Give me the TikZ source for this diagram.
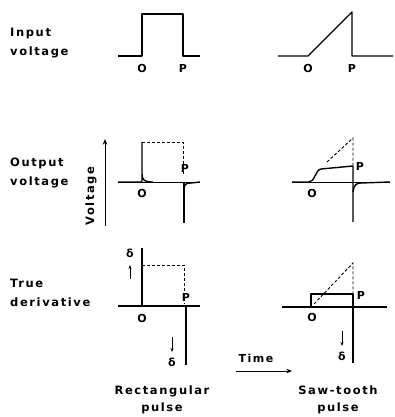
\documentclass[tikz,border=0pt]{standalone}
\usepackage{fontspec}
\newfontfamily\lettering{DejaVu Sans}[LetterSpace=14]
\usetikzlibrary{positioning, arrows.meta}

\begin{document}
\begin{tikzpicture}[x=1pt, y=-1pt,
  rowlbl/.style={font={\lettering\bfseries\fontsize{11.5}{19}\selectfont}, align=left, anchor=west, inner sep=0pt},
  caption/.style={font={\lettering\bfseries\fontsize{11.5}{17}\selectfont}, align=center, inner sep=0pt},
  ptlbl/.style={font={\lettering\bfseries\fontsize{11}{12}\selectfont}, inner sep=0pt},
  axis/.style={line width=0.8pt},
  wave/.style={line width=1.4pt, line join=round},
  ghost/.style={line width=0.9pt, dash pattern=on 3pt off 2pt},
  arr/.style={-{Stealth[length=2mm, width=1.6mm]}, line width=0.9pt},
  tick/.style={-{Stealth[length=4pt, width=3pt]}, line width=0.9pt}]
\useasboundingbox (0,0) rectangle (394,417);

% row labels
\node[rowlbl] (inlbl) at (10,43) {Input\\voltage};
\node[rowlbl] (outlbl) at (10,173) {Output\\voltage};
\node[rowlbl] (derlbl) at (10,293) {True\\derivative};

% input: rectangular
\coordinate (o1) at (142,56);
\coordinate (p1) at (183,56);
\draw[wave] (118,56) -- (o1) -- (142,14) -- (183,14) -- (p1) -- (200,56);
\node[ptlbl] (o1lbl) at (142,68) {O};
\node[ptlbl] (p1lbl) at (183,68) {P};

% input: saw-tooth
\coordinate (o2) at (308,56);
\coordinate (p2) at (352,56);
\draw[wave] (278,56) -- (o2) -- (352,12) -- (p2) -- (393,56);
\node[ptlbl] (o2lbl) at (308,68) {O};
\node[ptlbl] (p2lbl) at (352,68) {P};

% output: rectangular
\coordinate (o3) at (142,182);
\coordinate (p3) at (184,182);
\draw[axis] (118,182) -- (200,182);
\draw[wave] (118,182) -- (o3) -- (142,142) -- (142,173)
  .. controls (142,181) and (145,182) .. (153,182);
\draw[wave] (p3) -- (184,223);
\draw[wave] (184,191) .. controls (184,184) and (186,183) .. (191,183) -- (200,182);
\draw[ghost] (142,142) -- (183,142) -- (183,175);
\node[ptlbl] (o3lbl) at (142,193) {O};
\node[ptlbl] (p3lbl) at (185,168) {P};

% voltage axis
\coordinate (vfoot) at (105,226);
\coordinate (vhead) at (105,139);
\draw[arr] (vfoot) -- (vhead);
\node[rowlbl, rotate=90, anchor=center] (vlbl) at (91,196) {Voltage};

% output: saw-tooth
\coordinate (o4) at (312,182);
\coordinate (p4) at (353,182);
\draw[axis] (292,182) -- (390,182);
\draw[wave] (292,182) -- (309,182) .. controls (315,182) and (315,170) .. (321,169)
  -- (353,166) -- (p4) -- (353,222);
\draw[wave] (353,192) .. controls (354,185) and (356,183) .. (361,183) -- (390,182);
\draw[ghost] (327,162) -- (353,138) -- (353,165);
\node[ptlbl] (o4lbl) at (312,193) {O};
\node[ptlbl] (p4lbl) at (360,166) {P};

% true derivative: rectangular
\coordinate (o5) at (142,306);
\coordinate (p5) at (186,306);
\draw[wave] (118,306) -- (200,306);
\draw[wave] (o5) -- (142,248);
\draw[wave] (p5) -- (186,365);
\draw[ghost] (142,265) -- (184,265) -- (184,304);
\node[ptlbl] (o5lbl) at (142,318) {O};
\node[ptlbl] (p5lbl) at (186,297) {P};
\node[ptlbl] (d5up) at (130,253) {δ};
\coordinate (u5a) at (130,279);
\coordinate (u5b) at (130,265);
\draw[tick] (u5a) -- (u5b);
\coordinate (d5a) at (172,337);
\coordinate (d5b) at (172,352);
\draw[tick] (d5a) -- (d5b);
\node[ptlbl] (d5dn) at (172,362) {δ};

% true derivative: saw-tooth
\coordinate (o6) at (311,307);
\coordinate (p6) at (353,307);
\draw[wave] (282,307) -- (387,307);
\draw[wave] (o6) -- (311,294) -- (353,294) -- (p6) -- (353,363);
\draw[ghost] (314,304) -- (353,263) -- (353,293);
\node[ptlbl] (o6lbl) at (312,317) {O};
\node[ptlbl] (p6lbl) at (361,295) {P};
\coordinate (d6a) at (342,331);
\coordinate (d6b) at (342,346);
\draw[tick] (d6a) -- (d6b);
\node[ptlbl] (d6dn) at (342,356) {δ};

% time axis
\node[ptlbl] (timelbl) at (256,358) {Time};
\coordinate (tfoot) at (236,371);
\coordinate (thead) at (292,371);
\draw[arr] (tfoot) -- (thead);

% captions
\node[caption] (rectcap) at (162,400) {Rectangular\\pulse};
\node[caption] (sawcap) at (338,400) {Saw-tooth\\pulse};
\end{tikzpicture}
\end{document}
